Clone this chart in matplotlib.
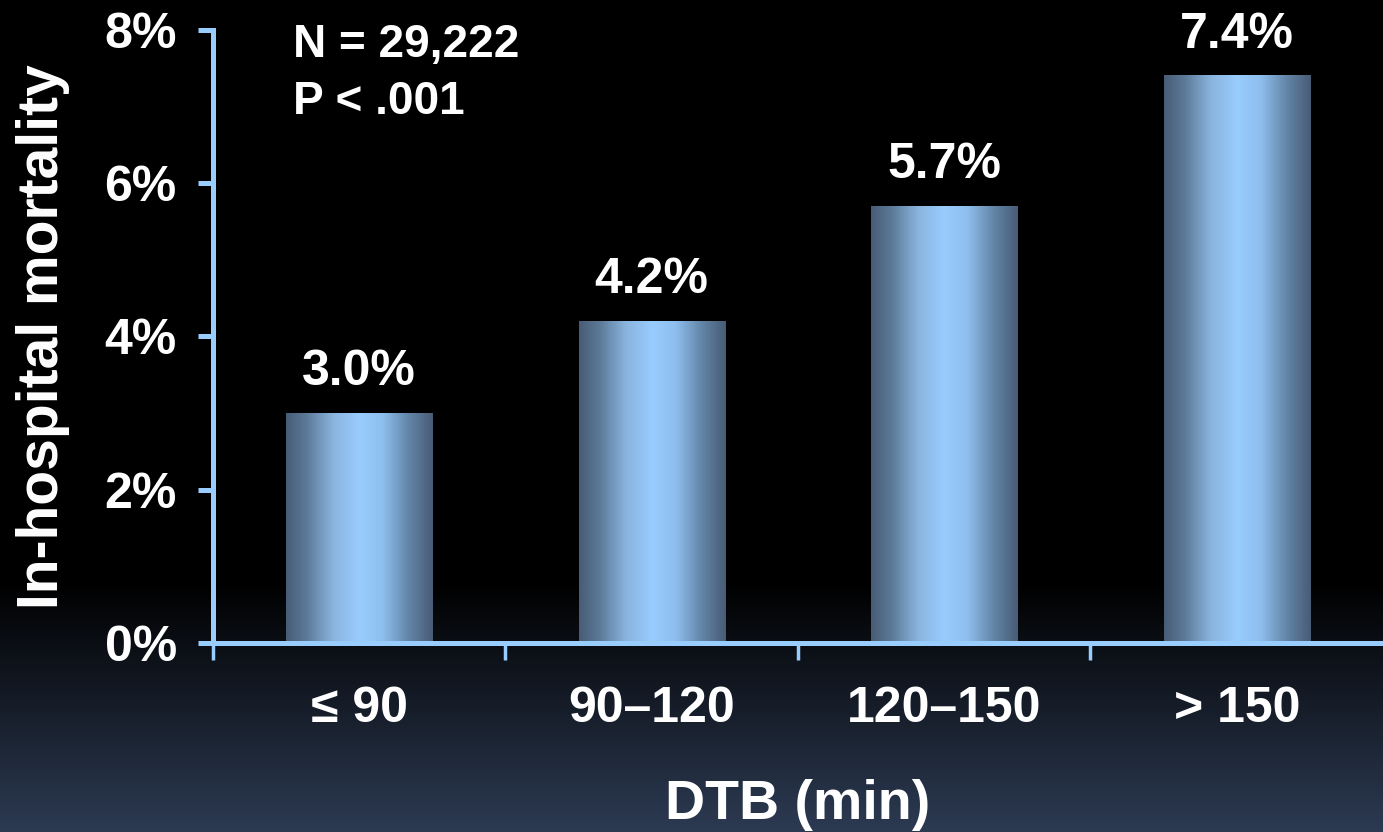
import numpy as np
import matplotlib
matplotlib.use("Agg")
import matplotlib.pyplot as plt
from matplotlib.colors import LinearSegmentedColormap

plt.rcParams['font.family'] = ['Liberation Sans', 'DejaVu Sans']
plt.rcParams['font.weight'] = 'bold'

# data
categories = ["\u2264 90", "90\u2013120", "120\u2013150", "> 150"]
mortality = [3.0, 4.2, 5.7, 7.4]
bar_labels = ["3.0%", "4.2%", "5.7%", "7.4%"]
y_ticks = [0, 2, 4, 6, 8]
y_tick_labels = ["0%", "2%", "4%", "6%", "8%"]

axis_blue = "#99CCFF"

fig = plt.figure(figsize=(13.83, 8.32), dpi=100)

# background: black fading to slate blue near the bottom
bg = fig.add_axes([0, 0, 1, 1], zorder=0)
rows = np.linspace(0, 1, 400)
t = np.clip((rows - 0.70) / 0.30, 0, 1)
bottom_col = np.array([44, 58, 82]) / 255
grad = (t[:, None] * bottom_col[None, :])[:, None, :]
bg.imshow(grad, aspect='auto', extent=[0, 1, 0, 1], origin='upper')
bg.set_axis_off()

ax = fig.add_axes([0.154, 0.2272, 0.846, 0.7368], zorder=1)
ax.patch.set_alpha(0)

x = np.arange(len(categories))
bars = ax.bar(x, mortality, width=0.5, color='none', edgecolor='none')

# horizontal shading inside each bar
bar_cmap = LinearSegmentedColormap.from_list("barshade", [
    (0.0, (72/255, 92/255, 118/255)),
    (0.14, (92/255, 122/255, 152/255)),
    (0.32, (138/255, 180/255, 222/255)),
    (0.5, (153/255, 204/255, 255/255)),
    (0.66, (142/255, 190/255, 238/255)),
    (0.84, (98/255, 132/255, 166/255)),
    (1.0, (72/255, 92/255, 118/255)),
])
shade = np.linspace(0, 1, 256)[None, :]
for p in bars.patches:
    x0 = p.get_x()
    ax.imshow(shade, cmap=bar_cmap, aspect='auto', interpolation='bilinear',
              extent=[x0, x0 + p.get_width(), 0, p.get_height()], zorder=2)

for xi, v, lab in zip(x, mortality, bar_labels):
    ax.annotate(lab, (xi, v), xytext=(0, 13), textcoords='offset points',
                ha='center', va='bottom', color='white', fontsize=36,
                fontweight='bold')

ax.set_xlim(-0.5, 3.5)
ax.set_ylim(0, 8)

ax.set_yticks(y_ticks)
ax.set_yticklabels(y_tick_labels)
ax.tick_params(axis='y', colors=axis_blue, length=11, width=3.6, pad=15,
               labelsize=36, labelcolor='white')

ax.set_xticks([-0.5, 0.5, 1.5, 2.5])
ax.set_xticklabels([])
ax.set_xticks(x, minor=True)
ax.set_xticklabels(categories, minor=True)
ax.tick_params(axis='x', which='major', colors=axis_blue, length=12, width=2.5)
ax.tick_params(axis='x', which='minor', length=0, pad=31, labelsize=36,
               labelcolor='white')

for side in ['top', 'right']:
    ax.spines[side].set_visible(False)
for side in ['left', 'bottom']:
    ax.spines[side].set_color(axis_blue)
    ax.spines[side].set_linewidth(3.6)

ax.set_ylabel("In-hospital mortality", color='white', fontsize=41,
              fontweight='bold')
ax.yaxis.set_label_coords(-0.122, 0.5)
ax.set_xlabel("DTB (min)", color='white', fontsize=40, fontweight='bold',
              va='top')
ax.xaxis.set_label_coords(0.5, -0.222)

ax.text(0.068, 1.012, "N = 29,222\nP < .001", transform=ax.transAxes,
        ha='left', va='top', color='white', fontsize=33, fontweight='bold',
        linespacing=1.4)

fig.savefig("out.png", dpi=100, facecolor='black')
